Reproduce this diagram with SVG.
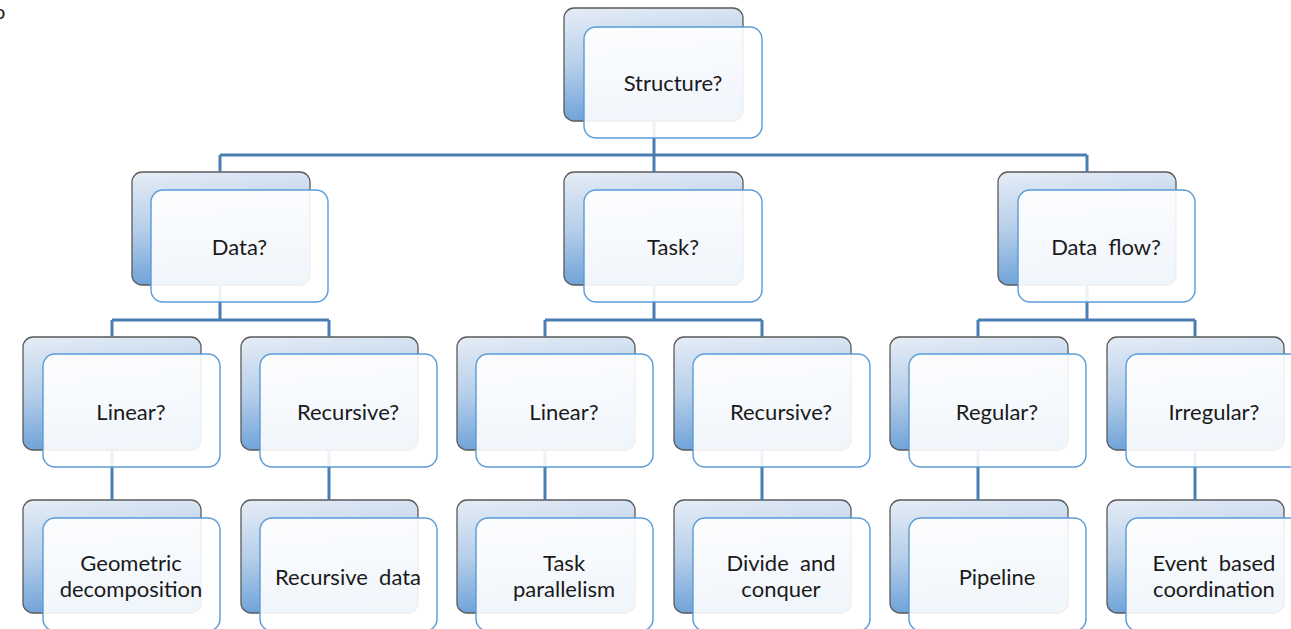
<svg xmlns="http://www.w3.org/2000/svg" width="1291" height="629" viewBox="0 0 1291 629">
<defs>
<linearGradient id="bg" x1="0" y1="0" x2="0.15" y2="1">
<stop offset="0" stop-color="#e6edf6"/>
<stop offset="0.5" stop-color="#b7cfea"/>
<stop offset="1" stop-color="#6ea2d8"/>
</linearGradient>
</defs>
<style>
.back{fill:url(#bg);stroke:#5a5a5a;stroke-width:1.3}
.front{fill:#ffffff;fill-opacity:0.9;stroke:#5b9bd5;stroke-width:1.4}
.lbl{font-family:Lato,"Open Sans",sans-serif;font-size:22px;fill:#1a1a1a;text-anchor:middle;white-space:pre}
.con{fill:none;stroke:#4a7db4;stroke-width:3}
</style>
<rect width="1291" height="629" fill="#ffffff"/>
<text x="-6" y="19" style="font-family:Lato,sans-serif;font-size:20px;fill:#1a1a1a">o</text>

<g id="back-layer">
<rect class="back" x="564" y="8" width="179" height="113" rx="10"/>
<rect class="back" x="132" y="172" width="178" height="113" rx="10"/>
<rect class="back" x="564" y="172" width="179" height="113" rx="10"/>
<rect class="back" x="998" y="172" width="178" height="113" rx="10"/>
<rect class="back" x="23" y="337" width="178" height="113" rx="10"/>
<rect class="back" x="241" y="337" width="177" height="113" rx="10"/>
<rect class="back" x="457" y="337" width="178" height="113" rx="10"/>
<rect class="back" x="674" y="337" width="177" height="113" rx="10"/>
<rect class="back" x="890" y="337" width="178" height="113" rx="10"/>
<rect class="back" x="1107" y="337" width="177" height="113" rx="10"/>
<rect class="back" x="23" y="500" width="178" height="113" rx="10"/>
<rect class="back" x="241" y="500" width="177" height="113" rx="10"/>
<rect class="back" x="457" y="500" width="178" height="113" rx="10"/>
<rect class="back" x="674" y="500" width="177" height="113" rx="10"/>
<rect class="back" x="890" y="500" width="178" height="113" rx="10"/>
<rect class="back" x="1107" y="500" width="177" height="113" rx="10"/>
</g>

<g id="connectors">
<path class="con" d="M654 121 V155 M220 155 H1087 M220 155 V172 M654 155 V172 M1087 155 V172"/>
<path class="con" d="M220 285 V320 M112 320 H329 M112 320 V337 M329 320 V337"/>
<path class="con" d="M654 285 V320 M545 320 H762 M545 320 V337 M762 320 V337"/>
<path class="con" d="M1087 285 V320 M978 320 H1195 M978 320 V337 M1195 320 V337"/>
<path class="con" d="M112 450 V500 M329 450 V500 M545 450 V500 M762 450 V500 M978 450 V500 M1195 450 V500"/>
</g>

<g id="n-structure"><rect class="front" x="584" y="27" width="178" height="111" rx="12"/><text class="lbl" x="673" y="91">Structure?</text></g>
<g id="n-data"><rect class="front" x="151" y="190" width="177" height="112" rx="12"/><text class="lbl" x="239.5" y="255">Data?</text></g>
<g id="n-task"><rect class="front" x="584" y="190" width="178" height="112" rx="12"/><text class="lbl" x="673" y="255">Task?</text></g>
<g id="n-dataflow"><rect class="front" x="1018" y="190" width="177" height="112" rx="12"/><text class="lbl" x="1106" y="255">Data  flow?</text></g>

<g id="n-linear1"><rect class="front" x="43" y="354" width="177" height="113" rx="12"/><text class="lbl" x="131" y="420">Linear?</text></g>
<g id="n-recursive1"><rect class="front" x="260" y="354" width="177" height="113" rx="12"/><text class="lbl" x="348" y="420">Recursive?</text></g>
<g id="n-linear2"><rect class="front" x="476" y="354" width="177" height="113" rx="12"/><text class="lbl" x="564" y="420">Linear?</text></g>
<g id="n-recursive2"><rect class="front" x="693" y="354" width="177" height="113" rx="12"/><text class="lbl" x="781" y="420">Recursive?</text></g>
<g id="n-regular"><rect class="front" x="909" y="354" width="177" height="113" rx="12"/><text class="lbl" x="997" y="420">Regular?</text></g>
<g id="n-irregular"><rect class="front" x="1126" y="354" width="177" height="113" rx="12"/><text class="lbl" x="1214" y="420">Irregular?</text></g>

<g id="n-geometric"><rect class="front" x="43" y="518" width="177" height="113" rx="12"/><text class="lbl" x="131" y="571">Geometric</text><text class="lbl" x="131" y="597">decomposition</text></g>
<g id="n-recdata"><rect class="front" x="260" y="518" width="177" height="113" rx="12"/><text class="lbl" x="348" y="585">Recursive  data</text></g>
<g id="n-taskpar"><rect class="front" x="476" y="518" width="177" height="113" rx="12"/><text class="lbl" x="564" y="571">Task</text><text class="lbl" x="564" y="597">parallelism</text></g>
<g id="n-divide"><rect class="front" x="693" y="518" width="177" height="113" rx="12"/><text class="lbl" x="781" y="571">Divide  and</text><text class="lbl" x="781" y="597">conquer</text></g>
<g id="n-pipeline"><rect class="front" x="909" y="518" width="177" height="113" rx="12"/><text class="lbl" x="997" y="585">Pipeline</text></g>
<g id="n-event"><rect class="front" x="1126" y="518" width="177" height="113" rx="12"/><text class="lbl" x="1214" y="571">Event  based</text><text class="lbl" x="1214" y="597">coordination</text></g>
</svg>
